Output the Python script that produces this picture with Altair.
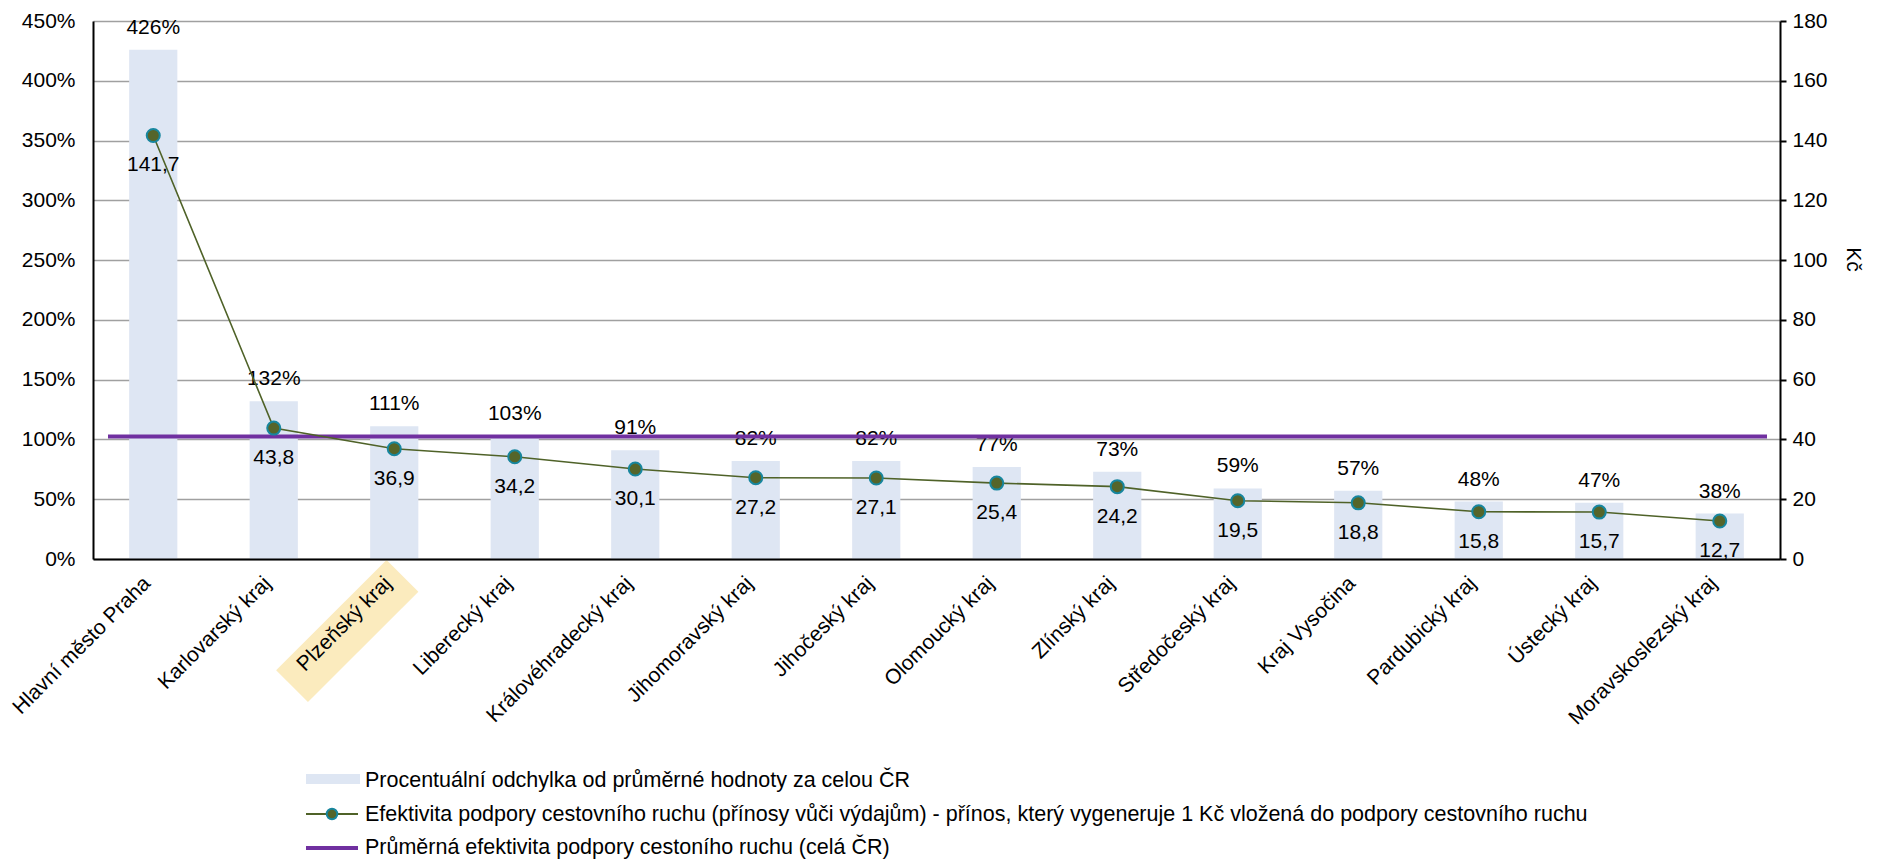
import altair as alt
import pandas as pd

regions = ["Hlavní město Praha", "Karlovarský kraj", "Plzeňský kraj", "Liberecký kraj",
           "Královéhradecký kraj", "Jihomoravský kraj", "Jihočeský kraj", "Olomoucký kraj",
           "Zlínský kraj", "Středočeský kraj", "Kraj Vysočina", "Pardubický kraj",
           "Ústecký kraj", "Moravskoslezský kraj"]
pct_deviation = [4.26, 1.32, 1.11, 1.03, 0.91, 0.82, 0.82, 0.77, 0.73, 0.59, 0.57, 0.48, 0.47, 0.38]
efficiency = [141.7, 43.8, 36.9, 34.2, 30.1, 27.2, 27.1, 25.4, 24.2, 19.5, 18.8, 15.8, 15.7, 12.7]
avg_efficiency = [41.0]
highlight_region = ["Plzeňský kraj"]
left_ticks = [0, 0.5, 1.0, 1.5, 2.0, 2.5, 3.0, 3.5, 4.0, 4.5]
right_ticks = [0, 20, 40, 60, 80, 100, 120, 140, 160, 180]
legend_labels = [
    "Procentuální odchylka od průměrné hodnoty za celou ČR",
    "Efektivita podpory cestovního ruchu (přínosy vůči výdajům) - přínos, který vygeneruje 1 Kč vložená do podpory cestovního ruchu",
    "Průměrná efektivita podpory  cestoního ruchu  (celá ČR)",
]

FONT = "Liberation Sans"
BAR = "#DEE6F3"
LINE = "#4F6228"
PT_FILL = "#55652A"
PT_STROKE = "#17869E"
PURPLE = "#7030A0"
HILITE = "#FBEBBE"

W, H = 1687, 538

df = pd.DataFrame({"region": regions, "pct": pct_deviation, "kc": efficiency})
avg_df = pd.DataFrame({"avg": avg_efficiency})
hl_df = pd.DataFrame({"region": highlight_region})
one = pd.DataFrame({"k": [0]})

x_enc = alt.X("region:N", sort=regions,
              scale=alt.Scale(paddingInner=0.6, paddingOuter=0.3),
              axis=alt.Axis(title=None, labelAngle=-45, labelAlign="right",
                            labelBaseline="middle", ticks=False, tickSize=0,
                            labelPadding=21, labelOffset=-6, labelLimit=0,
                            domainColor="black", domainWidth=2, zindex=1,
                            labelFontSize=21))

left_scale = alt.Scale(domain=[0, 4.5])
left_axis = alt.Axis(title=None, values=left_ticks, format=".0%", grid=True,
                     ticks=False, tickSize=0, labelPadding=18,
                     domainColor="black", domainWidth=2,
                     gridColor="#A0A0A0", gridWidth=1.6)
right_scale = alt.Scale(domain=[0, 180])
right_axis = alt.Axis(title="Kč", values=right_ticks, grid=False, ticks=True,
                      tickSize=6, tickColor="black", tickWidth=2, labelPadding=6,
                      domainColor="black", domainWidth=2, titleAngle=90,
                      titleFontWeight="normal", titleFontSize=21, titlePadding=15,
                      titleY=238)

# highlight behind Plzeňský kraj label
hl_path = "M0.491,-0.889 L0.889,-0.491 L-0.491,0.889 L-0.889,0.491 Z"
highlight = alt.Chart(hl_df).mark_point(shape=hl_path, filled=True, fill=HILITE,
                                         opacity=1, size=25600, xOffset=-47, strokeWidth=0).encode(
    x=alt.X("region:N", sort=regions), y=alt.value(H + 72))

bars = alt.Chart(df).mark_bar(color=BAR).encode(
    x=x_enc, y=alt.Y("pct:Q", scale=left_scale, axis=left_axis))
bar_text = alt.Chart(df).mark_text(font=FONT, fontSize=21, color="black",
                                   baseline="alphabetic", dy=-16).encode(
    x=alt.X("region:N", sort=regions),
    y=alt.Y("pct:Q", scale=left_scale, axis=left_axis),
    text=alt.Text("pct:Q", format=".0%"))

left = alt.layer(highlight, bars, bar_text)

rule = alt.Chart(avg_df).mark_rule(color=PURPLE, strokeWidth=4).encode(
    y=alt.Y("avg:Q", scale=right_scale, axis=right_axis),
    x=alt.value(15), x2=alt.value(W - 13))
line = alt.Chart(df).mark_line(color=LINE, strokeWidth=1.6).encode(
    x=alt.X("region:N", sort=regions),
    y=alt.Y("kc:Q", scale=right_scale, axis=right_axis))
pts = alt.Chart(df).mark_circle(size=170, color=PT_FILL, opacity=1,
                                stroke=PT_STROKE, strokeWidth=2).encode(
    x=alt.X("region:N", sort=regions),
    y=alt.Y("kc:Q", scale=right_scale, axis=right_axis))
pt_text = alt.Chart(df).transform_calculate(
    lbl="replace(format(datum.kc, '.1f'), '.', ',')"
).mark_text(font=FONT, fontSize=21, color="black", baseline="middle", dy=30).encode(
    x=alt.X("region:N", sort=regions),
    y=alt.Y("kc:Q", scale=right_scale, axis=right_axis),
    text="lbl:N")

# manual legend
lg_rect = alt.Chart(one).mark_rect(color=BAR).encode(
    x=alt.value(213), x2=alt.value(267), y=alt.value(753), y2=alt.value(763))
lg_line = alt.Chart(one).mark_rule(color=LINE, strokeWidth=2).encode(
    x=alt.value(213), x2=alt.value(265), y=alt.value(793))
lg_pt = alt.Chart(one).mark_circle(size=110, color=PT_FILL, opacity=1,
                                   stroke=PT_STROKE, strokeWidth=2).encode(
    x=alt.value(239), y=alt.value(793))
lg_purple = alt.Chart(one).mark_rule(color=PURPLE, strokeWidth=4).encode(
    x=alt.value(213), x2=alt.value(265), y=alt.value(827))
lg_texts = [
    alt.Chart(one).mark_text(font=FONT, fontSize=21.5, color="black", align="left",
                             baseline="middle").encode(
        x=alt.value(272), y=alt.value(yy), text=alt.value(t))
    for t, yy in zip(legend_labels, [760, 794, 827])
]

right = alt.layer(rule, line, pts, pt_text, lg_rect, lg_line, lg_pt, lg_purple, *lg_texts)

chart = alt.layer(left, right).resolve_scale(y="independent").properties(
    width=W, height=H,
    padding={"left": 85, "top": 13, "right": 88, "bottom": 300},
    autosize=alt.AutoSizeParams(type="none"),
).configure_view(stroke=None).configure_axis(
    labelFont=FONT, labelFontSize=21, labelColor="black", titleFont=FONT,
    titleColor="black").configure_text(font=FONT)

chart.save("out.html", embed_options={"renderer": "svg", "actions": False})
